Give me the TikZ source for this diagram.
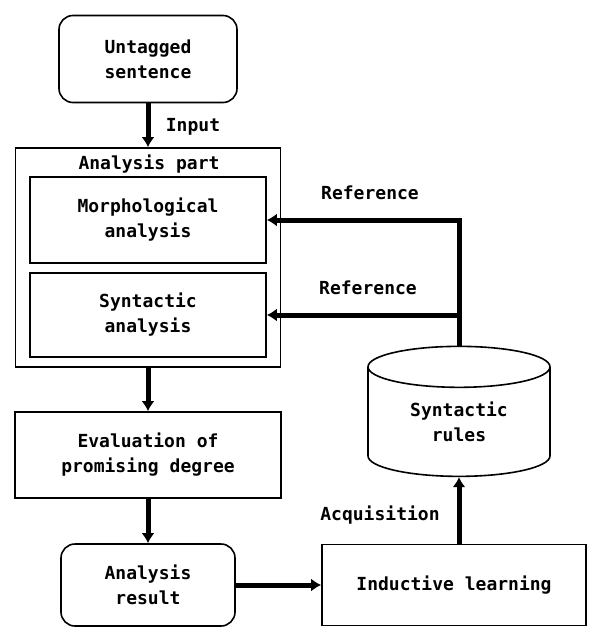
\documentclass[tikz,border=0pt]{standalone}
\usepackage{fontspec}
\setmonofont{DejaVu Sans Mono}
\usetikzlibrary{shapes,arrows,arrows.meta,positioning}

\begin{document}
\begin{tikzpicture}[x=1pt, y=-1pt,
    every node/.style={font=\ttfamily\bfseries\fontsize{18}{25}\selectfont, align=center, inner sep=0pt},
    box/.style={draw, line width=1.6pt, fill=white},
    rbox/.style={box, rounded corners=14pt},
    flow/.style={line width=5pt, -{Latex[length=10pt,width=13pt]}}]
    \useasboundingbox (0,0) rectangle (589,627);

    \node[rbox, minimum width=178pt, minimum height=87pt] (untagged) at (148,59) {Untagged\\sentence};
    \node[box, minimum width=265pt, minimum height=219pt] (part) at (148,257.5) {};
    \node (partlbl) at (149,164) {Analysis part};
    \node[box, minimum width=236pt, minimum height=86pt] (morph) at (148,220) {Morphological\\analysis};
    \node[box, minimum width=236pt, minimum height=84pt] (syn) at (148,315) {Syntactic\\analysis};
    \node[box, minimum width=266pt, minimum height=86pt] (eval) at (148,455) {Evaluation of\\promising degree};
    \node[rbox, minimum width=174pt, minimum height=82pt] (result) at (148,585) {Analysis\\result};
    \node[box, minimum width=264pt, minimum height=81pt] (induct) at (454,585) {Inductive learning};
    \node[box, cylinder, shape border rotate=90, aspect=0.42, minimum width=182pt, minimum height=130pt] (rules) at (459,422) {Syntactic\\rules};

    \node (input) at (193,127) {Input};
    \node (ref1) at (370,193) {Reference};
    \node (ref2) at (368,288) {Reference};
    \node (acq) at (380,515) {Acquisition};

    \draw[flow] (untagged) -- (part);
    \draw[flow] (part) -- (eval);
    \draw[flow] (eval) -- (result);
    \draw[flow] (result) -- (induct);
    \draw[flow] (induct.north -| rules.south) -- (rules.south);
    \draw[flow] (rules.north) |- (morph.east);
    \draw[flow] (rules.north) |- (syn.east);
\end{tikzpicture}
\end{document}
